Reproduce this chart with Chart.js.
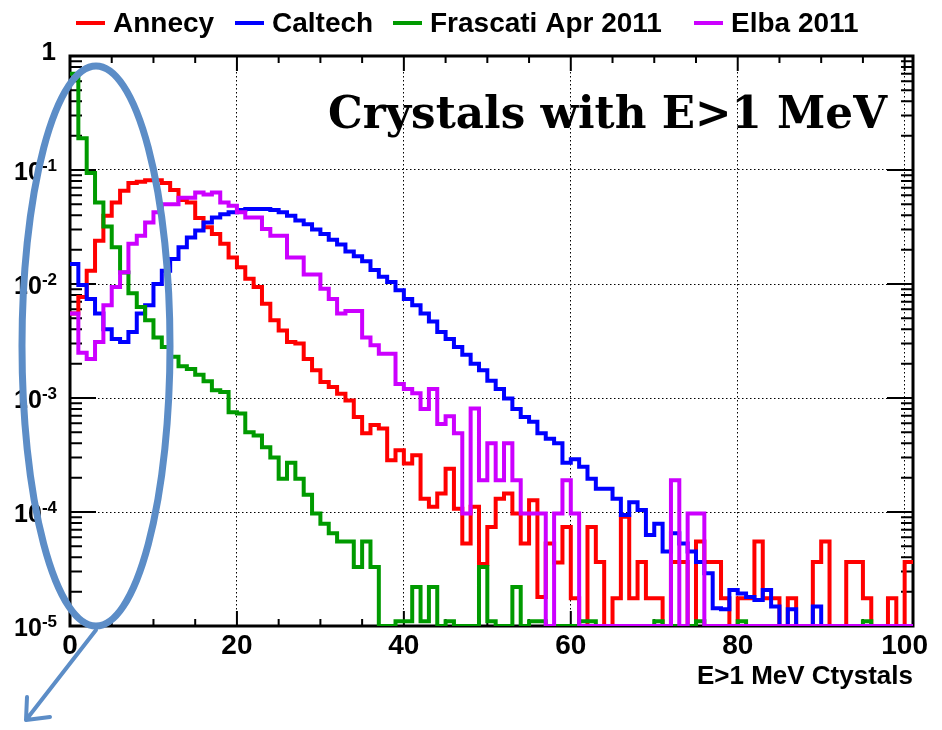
<!DOCTYPE html>
<html>
<head>
<meta charset="utf-8">
<title>Crystals with E>1 MeV</title>
<script src="https://cdn.jsdelivr.net/npm/chart.js@4.4.0/dist/chart.umd.min.js"></script>
<style>
  html, body { margin: 0; padding: 0; background: #fff; }
  canvas { display: block; }
</style>
</head>
<body>
<canvas id="crystalChart" width="942" height="730"></canvas>
<script>
// fraction of events vs number of crystals with E>1 MeV, bins of width 1 from 0 to 101
const binEdges = Array.from({length: 102}, (_, i) => i);

const annecy = [
  0.0055, 0.0077, 0.0131, 0.0239, 0.0397, 0.052, 0.0657, 0.0768, 0.079, 0.0815,
  0.0815, 0.0768, 0.0667, 0.0545, 0.052, 0.038, 0.0314, 0.0274, 0.0225, 0.0171,
  0.014, 0.0111, 0.0094, 0.0067, 0.0048, 0.0039, 0.0031, 0.0030, 0.0022, 0.00175,
  0.00138, 0.00125, 0.00109, 0.00095, 0.00068, 0.00049, 0.00058, 0.00054, 0.000284, 0.000348,
  0.000266, 0.000314, 0.000131, 0.000111, 0.000145, 0.00024, 0.000107, 0.000053, 0.000111, 0.000035,
  0.000074, 0.000131, 0.000145, 0.000097, 0.000053, 0.000127, 0.000018, 0.000053, 0.000036, 0.000074,
  0.0000175, 0, 0.000074, 0.0000365, 0, 0.0000175, 0.000091, 0.0000175, 0.0000365, 0.0000175,
  0.0000175, 0, 0.0000365, 0.0000365, 0, 0.000055, 0.0000365, 0.0000365, 0.0000175, 0,
  0.0000175, 0.0000175, 0.000055, 0.0000175, 0.0000175, 0, 0.0000175, 0, 0, 0.0000365,
  0.000055, 0, 0, 0.0000365, 0.0000365, 0.0000175, 0, 0, 0.0000175, 0,
  0.0000365
];
const caltech = [
  0.015, 0.0098, 0.0074, 0.0055, 0.0040, 0.0033, 0.0031, 0.0038, 0.0055, 0.0065,
  0.010, 0.0131, 0.0166, 0.021, 0.0256, 0.0294, 0.0347, 0.0384, 0.041, 0.0425,
  0.0445, 0.0455, 0.0455, 0.0455, 0.0445, 0.0425, 0.0397, 0.0360, 0.0335, 0.0300,
  0.0275, 0.0245, 0.0222, 0.0193, 0.0175, 0.0158, 0.0133, 0.0116, 0.0104, 0.0088,
  0.0074, 0.0065, 0.0055, 0.0047, 0.0038, 0.0033, 0.0028, 0.0024, 0.0020, 0.00175,
  0.00142, 0.00120, 0.00099, 0.00080, 0.00068, 0.00062, 0.00049, 0.00044, 0.00040, 0.00027,
  0.00029, 0.00025, 0.000196, 0.00016, 0.00016, 0.000131, 0.000094, 0.000122, 0.000104, 0.000063,
  0.000079, 0.000045, 0.000065, 0.000053, 0.000045, 0.0000365, 0.000029, 0.0000143, 0.000014, 0.0000207,
  0.0000193, 0.000018, 0.0000169, 0.0000207, 0.0000148, 0, 0.000014, 0, 0, 0.0000148,
  0, 0, 0, 0, 0, 0, 0, 0, 0, 0,
  0
];
const frascati = [
  0.7, 0.19, 0.094, 0.052, 0.032, 0.021, 0.0126, 0.0083, 0.0063, 0.0048,
  0.0034, 0.0028, 0.0023, 0.0019, 0.0018, 0.0016, 0.0014, 0.00117, 0.00113, 0.00075,
  0.00073, 0.00050, 0.00047, 0.00037, 0.00030, 0.000196, 0.00027, 0.000196, 0.000142, 0.000097,
  0.000079, 0.000065, 0.000055, 0.000055, 0.000033, 0.000055, 0.000033, 0, 0, 0.000011,
  0.000011, 0.000022, 0.000011, 0.000022, 0, 0.000011, 0, 0, 0, 0.000033,
  0.000011, 0, 0, 0.000022, 0, 0.000011, 0.000011, 0, 0, 0,
  0, 0.000011, 0.000011, 0, 0, 0, 0, 0, 0, 0,
  0.000011, 0, 0, 0, 0, 0.000011, 0, 0, 0, 0,
  0.000011, 0, 0, 0, 0, 0, 0, 0, 0, 0,
  0, 0, 0, 0, 0, 0.000011, 0, 0, 0, 0,
  0
];
const elba = [
  0.0055, 0.0025, 0.0022, 0.0031, 0.0065, 0.0094, 0.0127, 0.0225, 0.0265, 0.0347,
  0.0425, 0.050, 0.050, 0.057, 0.057, 0.0635, 0.061, 0.0635, 0.052, 0.0485,
  0.0425, 0.0384, 0.0384, 0.0303, 0.0265, 0.0265, 0.0171, 0.0171, 0.0121, 0.0121,
  0.0091, 0.0074, 0.0055, 0.0058, 0.0058, 0.0034, 0.0029, 0.00244, 0.00244, 0.00133,
  0.0012, 0.0011, 0.0008, 0.0012, 0.00059, 0.00069, 0.00049, 0.000097, 0.00081, 0.00019,
  0.0004, 0.00019, 0.0004, 0.00019, 0.000097, 0.000097, 0.000097, 0, 0.000097, 0.00019,
  0.000097, 0, 0, 0, 0, 0, 0, 0, 0, 0,
  0, 0, 0.00019, 0, 0.000097, 0.000097, 0, 0, 0, 0,
  0, 0, 0, 0, 0, 0, 0, 0, 0, 0,
  0, 0, 0, 0, 0, 0, 0, 0, 0, 0,
  0
];

const seriesNames = ["Annecy", "Caltech", "Frascati Apr 2011", "Elba 2011"];
const seriesColors = ["#ff0000", "#0000ff", "#009a00", "#cc00ff"];
const allSeries = [annecy, caltech, frascati, elba];

const xTicks = [0, 20, 40, 60, 80, 100];
const yTicks = [1e-5, 1e-4, 1e-3, 1e-2, 1e-1, 1];
const yTickExponents = ["-5", "-4", "-3", "-2", "-1", ""]; // drawn as 10^exp, "" means plain 1
const Y_MIN = 1e-5;

// empty bins sit on the bottom of the log axis, like ROOT draws them
function histPoints(values) {
  const pts = values.map((v, i) => ({x: binEdges[i], y: v > 0 ? v : Y_MIN}));
  pts.push({x: binEdges[values.length], y: pts[pts.length - 1].y});
  return pts;
}

// frame with ROOT style ticks pointing inwards, on all four sides
const frameTicks = {
  id: "frameTicks",
  beforeDatasetsDraw(chart) {
    const {ctx, chartArea: a, scales: {x, y}} = chart;
    ctx.save();
    ctx.strokeStyle = "#000";
    ctx.lineWidth = 2;
    ctx.beginPath();
    for (let v = 0; v <= 100; v += 5) {
      const px = x.getPixelForValue(v);
      const len = v % 20 === 0 ? 15 : 7;
      ctx.moveTo(px, a.bottom); ctx.lineTo(px, a.bottom - len);
      ctx.moveTo(px, a.top); ctx.lineTo(px, a.top + len);
    }
    for (let e = -5; e <= 0; e++) {
      for (let m = 1; m <= 9; m++) {
        const val = m * Math.pow(10, e);
        if (val > 1) break;
        const py = y.getPixelForValue(val);
        const len = m === 1 ? 26 : 12;
        ctx.moveTo(a.left, py); ctx.lineTo(a.left + len, py);
        ctx.moveTo(a.right, py); ctx.lineTo(a.right - len, py);
      }
    }
    ctx.stroke();
    ctx.lineWidth = 3;
    ctx.strokeRect(a.left, a.top, a.right - a.left, a.bottom - a.top);
    ctx.restore();
  }
};

// y labels as 10 with a raised exponent, legend row, big title and the hand drawn ellipse + arrow
const legendX = [76, 235, 393, 694];
const overlays = {
  id: "overlays",
  afterDraw(chart) {
    const ctx = chart.ctx;
    const y = chart.scales.y;
    ctx.save();
    ctx.fillStyle = "#000";
    ctx.textAlign = "right";
    ctx.textBaseline = "alphabetic";
    yTicks.forEach((v, i) => {
      const py = y.getPixelForValue(v);
      const exp = yTickExponents[i];
      if (exp === "") {
        ctx.font = "bold 26px 'Liberation Sans', Arial, sans-serif";
        ctx.fillText("1", 56, py + 4);
        return;
      }
      ctx.font = "bold 17px 'Liberation Sans', Arial, sans-serif";
      const expW = ctx.measureText(exp).width;
      ctx.fillText(exp, 57, py + 1);
      ctx.font = "bold 25px 'Liberation Sans', Arial, sans-serif";
      ctx.fillText("10", 57 - expW, py + 10);
    });

    ctx.textAlign = "left";
    ctx.font = "bold 28px 'Liberation Sans', Arial, sans-serif";
    seriesNames.forEach((name, k) => {
      ctx.strokeStyle = seriesColors[k];
      ctx.lineWidth = 4;
      ctx.beginPath();
      ctx.moveTo(legendX[k], 23);
      ctx.lineTo(legendX[k] + 29, 23);
      ctx.stroke();
      ctx.fillText(name, legendX[k] + 37, 32);
    });

    ctx.font = "bold 44px 'DejaVu Serif', serif";
    ctx.textAlign = "right";
    ctx.fillText("Crystals with E>1 MeV", 887, 128, 559);

    ctx.strokeStyle = "rgb(92,141,199)";
    ctx.lineWidth = 7;
    ctx.beginPath();
    ctx.ellipse(96, 346, 74, 280, 0, 0, 2 * Math.PI);
    ctx.stroke();
    ctx.lineWidth = 4;
    ctx.lineCap = "round";
    ctx.beginPath();
    ctx.moveTo(96, 630);
    ctx.lineTo(26, 720);
    ctx.moveTo(26, 720);
    ctx.lineTo(27, 697);
    ctx.moveTo(26, 720);
    ctx.lineTo(50, 717);
    ctx.stroke();
    ctx.restore();
  }
};

new Chart("crystalChart", {
  type: "line",
  data: {
    datasets: allSeries.map((vals, k) => ({
      label: seriesNames[k],
      data: histPoints(vals),
      borderColor: seriesColors[k],
      borderWidth: 4,
      stepped: true,
      pointRadius: 0,
      fill: false,
      order: allSeries.length - k // Elba drawn last, on top
    }))
  },
  options: {
    responsive: false,
    animation: false,
    layout: {padding: {top: 56, right: 29, bottom: 38, left: 0}},
    plugins: {
      legend: {display: false},
      tooltip: {enabled: false}
    },
    scales: {
      x: {
        type: "linear",
        min: 0,
        max: 101,
        afterBuildTicks: (s) => { s.ticks = xTicks.map((v) => ({value: v})); },
        afterFit: (s) => { s.height = 66; },
        grid: {color: "#000", lineWidth: 1, drawTicks: false},
        border: {display: false, dash: [1.5, 2.5]},
        ticks: {
          color: "#000",
          padding: 3,
          maxRotation: 0,
          autoSkip: false,
          font: {family: "'Liberation Sans', Arial, sans-serif", size: 28, weight: "bold"}
        },
        title: {
          display: true,
          text: "E>1 MeV Ctystals",
          align: "end",
          color: "#000",
          padding: {top: 0, bottom: 0},
          font: {family: "'Liberation Sans', Arial, sans-serif", size: 26, weight: "bold"}
        }
      },
      y: {
        type: "logarithmic",
        min: 1e-5,
        max: 1,
        afterBuildTicks: (s) => { s.ticks = yTicks.map((v) => ({value: v})); },
        afterFit: (s) => { s.width = 70; },
        grid: {color: "#000", lineWidth: 1, drawTicks: false},
        border: {display: false, dash: [1.5, 2.5]},
        ticks: {display: false}
      }
    }
  },
  plugins: [frameTicks, overlays]
});
</script>
</body>
</html>
